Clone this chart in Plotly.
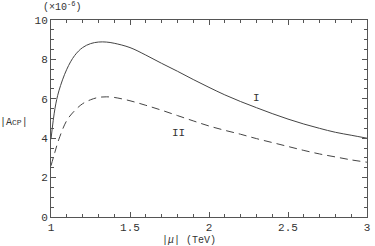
import plotly.graph_objects as go

mu = [1.0, 1.025, 1.05, 1.1, 1.15, 1.2, 1.25, 1.3, 1.35, 1.4, 1.5, 1.6, 1.7, 1.8,
      1.9, 2.0, 2.1, 2.2, 2.3, 2.4, 2.5, 2.6, 2.7, 2.8, 2.9, 3.0]
acp_I = [3.95, 5.5, 6.4, 7.5, 8.2, 8.6, 8.8, 8.88, 8.88, 8.82, 8.6, 8.22, 7.8, 7.4,
         6.98, 6.58, 6.2, 5.86, 5.55, 5.25, 4.97, 4.72, 4.5, 4.3, 4.15, 4.0]
acp_II = [2.6, 3.3, 3.95, 4.9, 5.4, 5.75, 5.95, 6.07, 6.1, 6.07, 5.9, 5.67, 5.42, 5.15,
          4.88, 4.62, 4.4, 4.2, 3.98, 3.78, 3.58, 3.38, 3.2, 3.05, 2.9, 2.78]

x_ticks = [1, 1.5, 2, 2.5, 3]
x_ticklabels = ["1", "1.5", "2", "2.5", "3"]
y_ticks = [0, 2, 4, 6, 8, 10]

font = "Liberation Mono"
col = "#333333"

fig = go.Figure()
fig.add_trace(go.Scatter(x=mu, y=acp_I, mode="lines", line=dict(color="#444", width=1, shape="spline"), showlegend=False))
fig.add_trace(go.Scatter(x=mu, y=acp_II, mode="lines", line=dict(color="#444", width=1, dash="8px,5px", shape="spline"), showlegend=False))

axis_common = dict(showgrid=False, zeroline=False, showline=True, linecolor="#555", linewidth=1,
                   ticks="inside", ticklen=5, tickcolor="#555", mirror="allticks",
                   tickfont=dict(family=font, size=11, color=col))
fig.update_xaxes(range=[1, 3], tickvals=x_ticks, ticktext=x_ticklabels,
                 minor=dict(ticks="inside", dtick=0.1, ticklen=3, tickcolor="#555"), **axis_common)
fig.update_yaxes(range=[0, 10], tickvals=y_ticks,
                 minor=dict(ticks="inside", dtick=0.5, ticklen=3, tickcolor="#555"), **axis_common)

fig.add_annotation(x=2.3, y=6.02, text="I", showarrow=False, font=dict(family=font, size=11, color=col))
fig.add_annotation(x=1.805, y=4.25, text="II", showarrow=False, font=dict(family=font, size=11, color=col))
fig.add_annotation(xref="paper", yref="paper", x=0.036, y=1.025, xanchor="center", yanchor="bottom",
                   text="(×10<sup>-6</sup>)", showarrow=False, font=dict(family=font, size=10, color=col))
fig.add_annotation(xref="paper", yref="paper", x=-0.116, y=0.482, xanchor="center", yanchor="middle",
                   text="|A<span style='font-size:8px'>CP</span>|", showarrow=False,
                   font=dict(family=font, size=10, color=col))
fig.add_annotation(xref="paper", yref="paper", x=0.436, y=-0.118, xanchor="center", yanchor="middle",
                   text="|<i>μ</i>| (TeV)", showarrow=False, font=dict(family=font, size=10, color=col))

fig.update_layout(width=375, height=246, margin=dict(l=51, r=5, t=20, b=29),
                  plot_bgcolor="white", paper_bgcolor="white")
fig.write_html("out.html", config={"displayModeBar": False},
               post_script="document.body.style.margin='0';")
